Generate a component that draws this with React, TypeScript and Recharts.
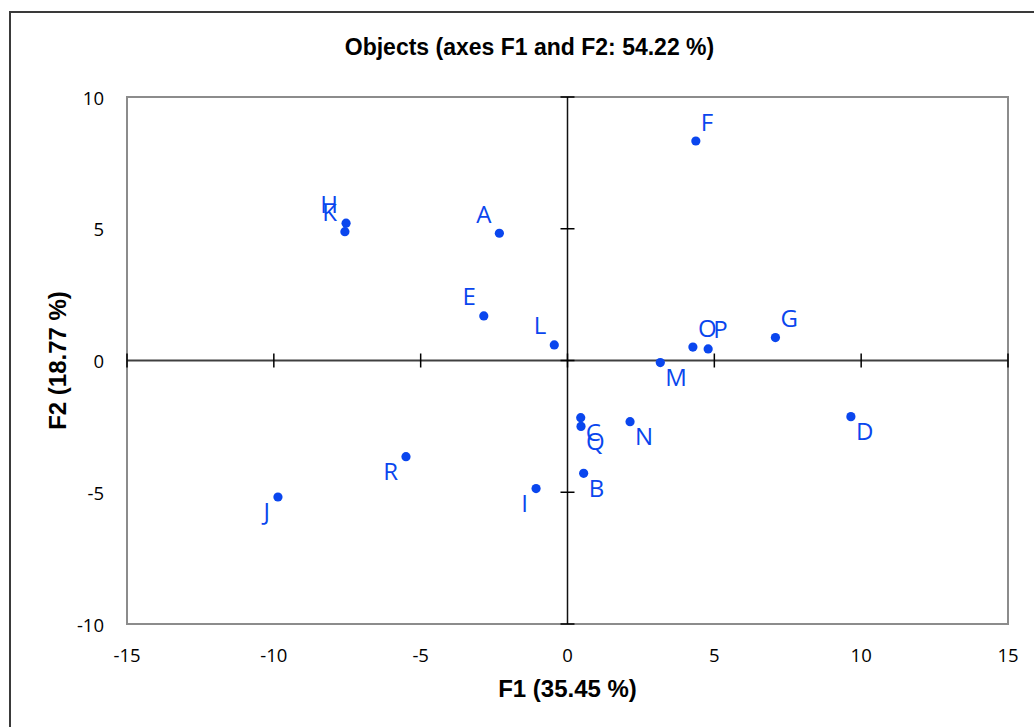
import React from "react";
import {
  ScatterChart,
  Scatter,
  XAxis,
  YAxis,
  ReferenceLine,
  ReferenceArea,
  ReferenceDot,
} from "recharts";

// Observation scores on the first two factors
const NAMES = ["A", "B", "C", "D", "E", "F", "G", "H", "I", "J", "K", "L", "M", "N", "O", "P", "Q", "R"];
const F1 = [-2.32, 0.55, 0.45, 9.65, -2.85, 4.37, 7.08, -7.54, -1.07, -9.86, -7.58, -0.45, 3.16, 2.13, 4.27, 4.79, 0.46, -5.5];
const F2 = [4.83, -4.28, -2.17, -2.13, 1.69, 8.33, 0.87, 5.21, -4.86, -5.18, 4.89, 0.59, -0.08, -2.32, 0.51, 0.44, -2.5, -3.65];

// where each label sits around its point: ur / ul / dr / dl
const LABEL_SIDE = ["ul", "dr", "dr", "dr", "ul", "ur", "ur", "ul", "dl", "dl", "ul", "ul", "dr", "dr", "ur", "ur", "dr", "dl"];

const X_TICKS = [-15, -10, -5, 0, 5, 10, 15];
const Y_TICKS = [-10, -5, 0, 5, 10];

const TITLE = "Objects (axes F1 and F2: 54.22 %)";
const X_TITLE = "F1 (35.45 %)";
const Y_TITLE = "F2 (18.77 %)";

const BLUE = "#0a46ee";
const TICK_FONT = "'Open Sans', 'Noto Sans', sans-serif";
const BOLD_FONT = "'Liberation Sans', Arial, sans-serif";

const data = NAMES.map((name, i) => ({ name, f1: F1[i], f2: F2[i], side: LABEL_SIDE[i] }));

function PointWithLabel(props: any) {
  const { cx, cy, payload } = props;
  const up = payload.side[0] === "u";
  const right = payload.side[1] === "r";
  return (
    <g>
      <circle cx={cx} cy={cy} r={4.6} fill={BLUE} />
      <text
        x={right ? cx + 5 : cx - 8}
        y={up ? cy - 20 : cy + 14}
        textAnchor={right ? "start" : "end"}
        dominantBaseline="central"
        fill={BLUE}
        fontSize={24}
        fontFamily={TICK_FONT}
      >
        {payload.name}
      </text>
    </g>
  );
}

function XTick(props: any) {
  const { x, y, payload } = props;
  return (
    <text x={x} y={y + 28} textAnchor="middle" dominantBaseline="central" fontSize={18.5} fontFamily={TICK_FONT} fill="#000">
      {payload.value}
    </text>
  );
}

function YTick(props: any) {
  const { x, y, payload } = props;
  return (
    <text x={x - 21} y={y} textAnchor="end" dominantBaseline="central" fontSize={18.5} fontFamily={TICK_FONT} fill="#000">
      {payload.value}
    </text>
  );
}

const vTick = (p: any) => <line x1={p.cx} x2={p.cx} y1={p.cy - 7} y2={p.cy + 7} stroke="#000" strokeWidth={1.5} />;
const hTick = (p: any) => <line x1={p.cx - 7} x2={p.cx + 7} y1={p.cy} y2={p.cy} stroke="#000" strokeWidth={1.5} />;

export default function App() {
  return (
    <div style={{ position: "fixed", left: 0, top: 0, width: 1034, height: 727, overflow: "hidden", background: "#fff" }}>
      <div
        style={{
          position: "absolute",
          left: 9,
          top: 11,
          width: 1100,
          height: 800,
          border: "2px solid #3a3a3a",
          boxSizing: "border-box",
        }}
      />
      <div
        style={{
          position: "absolute",
          left: 0,
          top: 33,
          width: 1059,
          textAlign: "center",
          fontFamily: BOLD_FONT,
          fontWeight: "bold",
          fontSize: 23,
          lineHeight: "28px",
          color: "#000",
        }}
      >
        {TITLE}
      </div>
      <div style={{ position: "absolute", left: 0, top: 0 }}>
        <ScatterChart width={1034} height={727} margin={{ top: 97, right: 26, bottom: 63, left: 67 }}>
          <XAxis
            type="number"
            dataKey="f1"
            domain={[-15, 15]}
            ticks={X_TICKS}
            axisLine={false}
            tickLine={false}
            tickSize={0}
            height={40}
            tick={<XTick />}
            label={(p: any) => (
              <text
                x={p.viewBox.x + p.viewBox.width / 2}
                y={p.viewBox.y + 64}
                textAnchor="middle"
                dominantBaseline="central"
                fontFamily={BOLD_FONT}
                fontWeight="bold"
                fontSize={24}
                fill="#000"
              >
                {X_TITLE}
              </text>
            )}
          />
          <YAxis
            type="number"
            dataKey="f2"
            domain={[-10, 10]}
            ticks={Y_TICKS}
            axisLine={false}
            tickLine={false}
            tickSize={0}
            width={60}
            tick={<YTick />}
            label={(p: any) => {
              const cx = p.viewBox.x - 10;
              const cy = p.viewBox.y + p.viewBox.height / 2;
              return (
                <text
                  x={cx}
                  y={cy}
                  transform={`rotate(-90 ${cx} ${cy})`}
                  textAnchor="middle"
                  dominantBaseline="central"
                  fontFamily={BOLD_FONT}
                  fontWeight="bold"
                  fontSize={24}
                  fill="#000"
                >
                  {Y_TITLE}
                </text>
              );
            }}
          />
          <ReferenceArea x1={-15} x2={15} y1={-10} y2={10} fill="none" stroke="#8c8c8c" strokeWidth={2} />
          <ReferenceLine y={0} stroke="#404040" strokeWidth={2} />
          <ReferenceLine x={0} stroke="#111" strokeWidth={1.5} />
          {X_TICKS.map((t) => (
            <ReferenceDot key={`xt${t}`} x={t} y={0} r={0} shape={vTick} />
          ))}
          {Y_TICKS.map((t) => (
            <ReferenceDot key={`yt${t}`} x={0} y={t} r={0} shape={hTick} />
          ))}
          <Scatter data={data} fill={BLUE} shape={PointWithLabel} isAnimationActive={false} />
        </ScatterChart>
      </div>
    </div>
  );
}
